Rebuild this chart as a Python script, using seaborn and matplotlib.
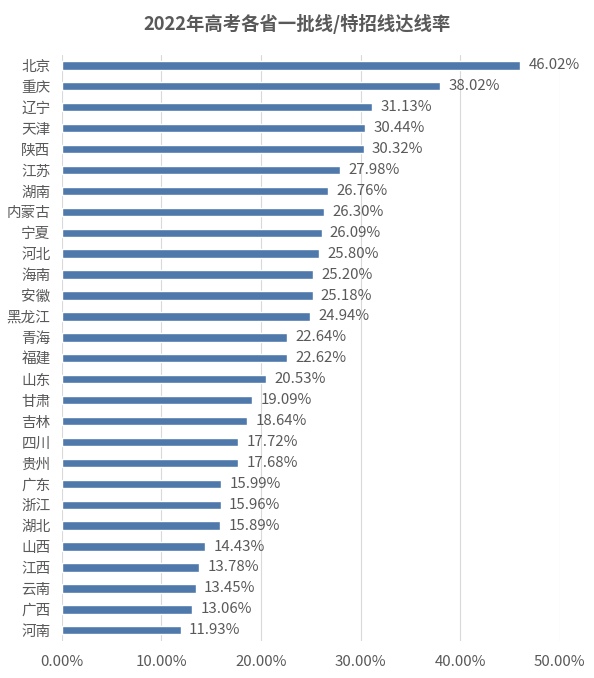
import matplotlib
matplotlib.use("Agg")
import matplotlib.pyplot as plt
from matplotlib.ticker import PercentFormatter
import pandas as pd
import seaborn as sns

provinces = ["北京", "重庆", "辽宁", "天津", "陕西", "江苏", "湖南", "内蒙古", "宁夏", "河北",
             "海南", "安徽", "黑龙江", "青海", "福建", "山东", "甘肃", "吉林", "四川", "贵州",
             "广东", "浙江", "湖北", "山西", "江西", "云南", "广西", "河南"]
rates = [46.02, 38.02, 31.13, 30.44, 30.32, 27.98, 26.76, 26.30, 26.09, 25.80,
         25.20, 25.18, 24.94, 22.64, 22.62, 20.53, 19.09, 18.64, 17.72, 17.68,
         15.99, 15.96, 15.89, 14.43, 13.78, 13.45, 13.06, 11.93]
title = "2022年高考各省一批线/特招线达线率"

df = pd.DataFrame({"province": provinces, "rate": [r / 100 for r in rates]})

sns.set_theme(style="white")
plt.rcParams["font.family"] = ["Noto Sans CJK SC", "DejaVu Sans"]

text_color = "#595959"
bar_color = "#4F79AB"

fig = plt.figure(figsize=(5.94, 6.78), dpi=100)
ax = fig.add_axes([0.1039, 0.055, 0.8384, 0.864])

sns.barplot(data=df, x="rate", y="province", orient="h", color=bar_color,
            width=0.4, saturation=1, ax=ax, zorder=3)

for i, r in enumerate(rates):
    ax.annotate(f"{r:.2f}%", xy=(r / 100, i), xytext=(6, 0), textcoords="offset points",
                va="center", ha="left", fontsize=10.8, color=text_color)

ax.set_xlim(0, 0.5)
ax.set_ylim(27.5, -0.5)
ax.set_xticks([0, 0.1, 0.2, 0.3, 0.4, 0.5])
ax.xaxis.set_major_formatter(PercentFormatter(1.0, decimals=2))
ax.grid(axis="x", color="#D9D9D9", linewidth=0.8, zorder=0)
ax.set_axisbelow(True)
for s in ax.spines.values():
    s.set_visible(False)
ax.set_xlabel("")
ax.set_ylabel("")
ax.tick_params(axis="x", length=0, pad=10, labelsize=10.8, labelcolor=text_color)
ax.tick_params(axis="y", length=0, pad=8, labelsize=10.5, labelcolor=text_color)

fig.text(0.5, 0.964, title, ha="center", va="center", fontsize=13.2,
         fontweight="bold", color=text_color)

fig.savefig("out.png", dpi=100)
